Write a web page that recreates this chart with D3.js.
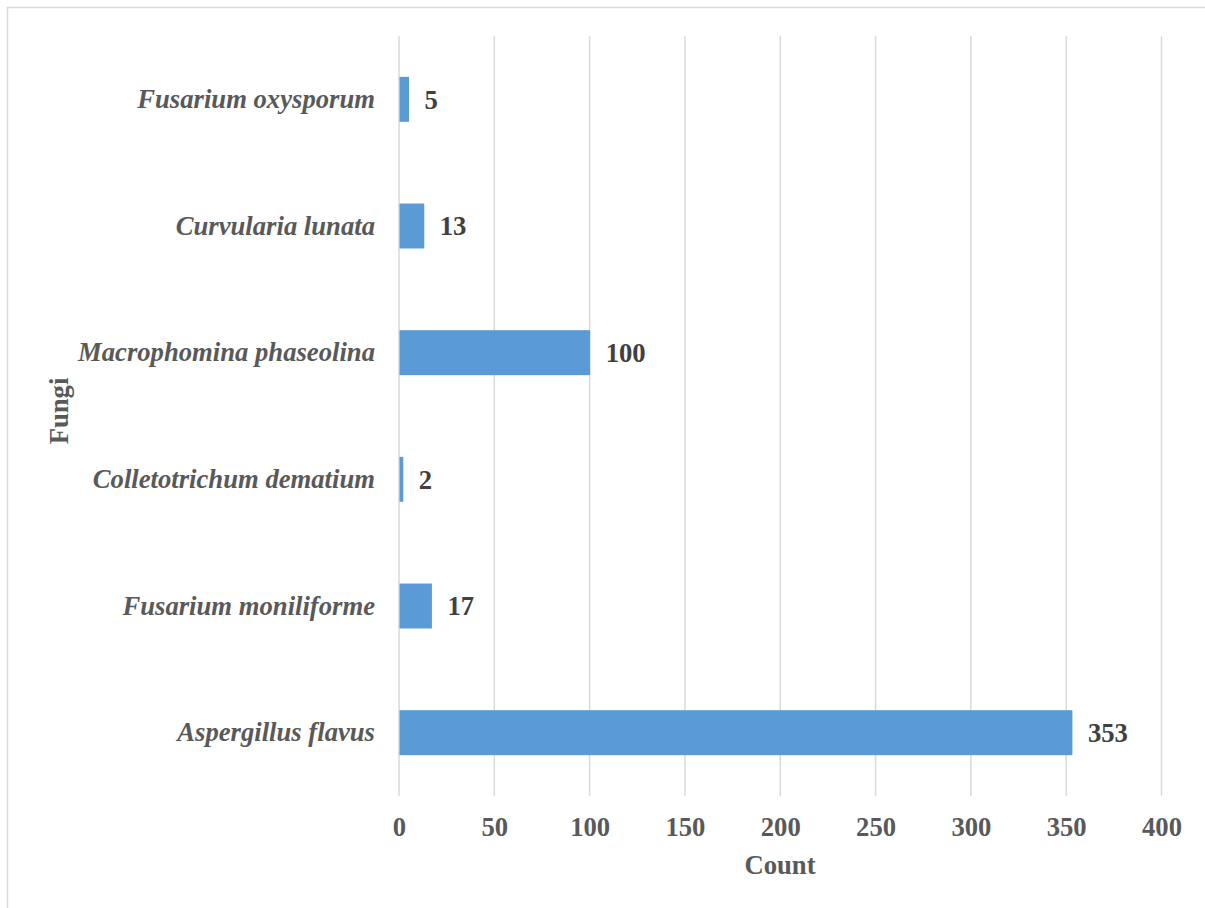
<!DOCTYPE html>
<html>
<head>
<meta charset="utf-8">
<script src="https://cdn.jsdelivr.net/npm/d3@7/dist/d3.min.js"></script>
<style>
  html, body { margin: 0; padding: 0; background: #fff; }
  svg { display: block; }
  text { font-family: "Liberation Serif", "Times New Roman", serif; font-weight: bold; }
</style>
</head>
<body>
<svg id="chart" width="1205" height="908"></svg>
<script>
// Fungal isolates counted per species
const fungi = [
  "Aspergillus flavus",
  "Fusarium moniliforme",
  "Colletotrichum dematium",
  "Macrophomina phaseolina",
  "Curvularia lunata",
  "Fusarium oxysporum"
];
const counts = [353, 17, 2, 100, 13, 5];
const xTicks = [0, 50, 100, 150, 200, 250, 300, 350, 400];

const svg = d3.select("#chart");
const W = 1205, H = 908;
const FS = 26.67;

// outer frame of the chart area
svg.append("rect")
  .attr("x", 7.5).attr("y", 7.5)
  .attr("width", W + 10).attr("height", H + 10)
  .attr("fill", "none").attr("stroke", "#d9d9d9").attr("stroke-width", 1.5);

const plot = { left: 399, right: 1161.5, top: 36, bottom: 796 };

const x = d3.scaleLinear().domain([0, 400]).range([plot.left, plot.right]);
const y = d3.scaleBand()
  .domain(fungi.slice().reverse())
  .range([plot.top, plot.bottom])
  .paddingInner(0.645)
  .paddingOuter(0.3225);

// vertical gridlines
svg.append("g")
  .selectAll("line")
  .data(xTicks)
  .join("line")
  .attr("x1", d => x(d)).attr("x2", d => x(d))
  .attr("y1", plot.top).attr("y2", plot.bottom)
  .attr("stroke", "#d9d9d9").attr("stroke-width", 1.5);

const data = fungi.map((f, i) => ({ name: f, value: counts[i] }));

// bars
svg.append("g")
  .selectAll("rect")
  .data(data)
  .join("rect")
  .attr("x", x(0) + 0.5)
  .attr("y", d => y(d.name))
  .attr("width", d => x(d.value) - x(0))
  .attr("height", y.bandwidth())
  .attr("fill", "#5b9bd5");

// value labels
svg.append("g")
  .selectAll("text")
  .data(data)
  .join("text")
  .attr("x", d => x(d.value) + 16)
  .attr("y", d => y(d.name) + y.bandwidth() / 2)
  .attr("dy", "0.35em")
  .attr("font-size", FS)
  .attr("fill", "#404040")
  .text(d => d.value);

// x axis tick labels
const xAxis = d3.axisBottom(x).tickValues(xTicks).tickSize(0).tickPadding(0);
const gx = svg.append("g")
  .attr("transform", `translate(0, ${plot.bottom})`)
  .call(xAxis);
gx.select(".domain").remove();
gx.selectAll("text")
  .attr("y", 40)
  .attr("dy", 0)
  .attr("font-size", FS)
  .attr("font-family", "Liberation Serif, Times New Roman, serif")
  .attr("font-weight", "bold")
  .attr("fill", "#595959");

// y axis category labels
const yAxis = d3.axisLeft(y).tickSize(0).tickPadding(24);
const gy = svg.append("g")
  .attr("transform", `translate(${plot.left}, 0)`)
  .call(yAxis);
gy.select(".domain").remove();
gy.selectAll("text")
  .attr("font-size", FS)
  .attr("font-family", "Liberation Serif, Times New Roman, serif")
  .attr("font-weight", "bold")
  .attr("font-style", "italic")
  .attr("fill", "#595959");

// axis titles
svg.append("text")
  .attr("x", 780).attr("y", 874)
  .attr("text-anchor", "middle")
  .attr("font-size", FS)
  .attr("fill", "#595959")
  .text("Count");

svg.append("text")
  .attr("transform", "translate(68, 411) rotate(-90)")
  .attr("text-anchor", "middle")
  .attr("font-size", FS)
  .attr("fill", "#595959")
  .text("Fungi");
</script>
</body>
</html>
